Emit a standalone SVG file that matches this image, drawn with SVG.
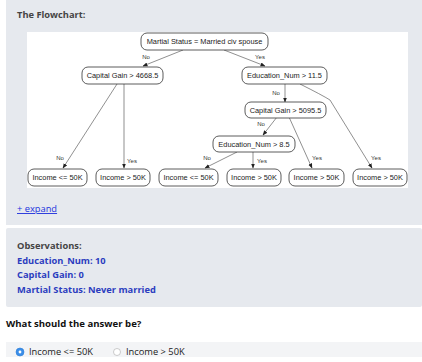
<svg xmlns="http://www.w3.org/2000/svg" width="422" height="362" viewBox="0 0 422 362">
<style>
.panel{fill:#e6e9ee}
.node rect{fill:#fff;stroke:#333;stroke-width:0.8}
.node text{font-family:"Liberation Sans",Arial,sans-serif;font-size:7.4px;fill:#222;text-anchor:middle}
.edge{fill:none;stroke:#444;stroke-width:0.6;marker-end:url(#ah)}
.lbl{font-family:"Liberation Sans",Arial,sans-serif;font-size:6px;fill:#333;text-anchor:middle}
.ui{font-family:"Open Sans","Noto Sans",sans-serif}
.h{font-weight:bold;fill:#444;font-size:9.3px}
.obs{font-weight:bold;fill:#2c3dbf;font-size:9.3px}
</style>
<defs>
<marker id="ah" viewBox="0 0 10 10" refX="9" refY="5" markerWidth="5" markerHeight="5" orient="auto" markerUnits="userSpaceOnUse">
<path d="M0,1 L10,5 L0,9 z" fill="#222"/>
</marker>
</defs>
<rect x="0" y="0" width="422" height="362" fill="#fff"/>
<rect class="panel" x="6" y="0" width="416" height="225"/>
<rect class="panel" x="6" y="228" width="416" height="79" rx="2"/>
<text class="ui h" x="17" y="18">The Flowchart:</text>
<rect x="27" y="32" width="381" height="156" fill="#fff"/>

<g id="connectors">
<path class="edge" d="M183,50 L143,66"/>
<path class="edge" d="M224,50 L265,66"/>
<path class="edge" d="M117,84 L63,168"/>
<path class="edge" d="M124,84 L124,168"/>
<path class="edge" d="M285,84 L285,102"/>
<path class="edge" d="M300,84 Q322,95 330,100 L372,168"/>
<path class="edge" d="M277,117 L263,135"/>
<path class="edge" d="M289,117 L312,168"/>
<path class="edge" d="M237,152 L205,168"/>
<path class="edge" d="M253,152 L253,168"/>
<text class="lbl" x="146" y="59">No</text>
<text class="lbl" x="260" y="59">Yes</text>
<text class="lbl" x="60" y="160">No</text>
<text class="lbl" x="132" y="163">Yes</text>
<text class="lbl" x="276" y="95">No</text>
<text class="lbl" x="376" y="160">Yes</text>
<text class="lbl" x="261" y="126">No</text>
<text class="lbl" x="317" y="160">Yes</text>
<text class="lbl" x="207" y="160">No</text>
<text class="lbl" x="262" y="163">Yes</text>
</g>

<g id="n_root" class="node"><rect x="141" y="33" width="127" height="17" rx="6"/><text x="204.5" y="44.2">Martial Status = Married civ spouse</text></g>
<g id="n_cg1" class="node"><rect x="82" y="67" width="81" height="17" rx="6"/><text x="122.5" y="78.2">Capital Gain &gt; 4668.5</text></g>
<g id="n_en1" class="node"><rect x="242" y="67" width="85" height="17" rx="6"/><text x="284.5" y="78.2">Education_Num &gt; 11.5</text></g>
<g id="n_cg2" class="node"><rect x="245" y="102" width="81" height="16" rx="6"/><text x="285.5" y="112.7">Capital Gain &gt; 5095.5</text></g>
<g id="n_en2" class="node"><rect x="213" y="136" width="82" height="16" rx="6"/><text x="254" y="146.7">Education_Num &gt; 8.5</text></g>
<g id="n_l1" class="node"><rect x="28" y="169" width="59" height="17" rx="6"/><text x="57.5" y="180.2">Income &lt;= 50K</text></g>
<g id="n_l2" class="node"><rect x="96" y="169" width="54" height="17" rx="6"/><text x="123" y="180.2">Income &gt; 50K</text></g>
<g id="n_l3" class="node"><rect x="159" y="169" width="59" height="17" rx="6"/><text x="188.5" y="180.2">Income &lt;= 50K</text></g>
<g id="n_l4" class="node"><rect x="227" y="169" width="54" height="17" rx="6"/><text x="254" y="180.2">Income &gt; 50K</text></g>
<g id="n_l5" class="node"><rect x="289" y="169" width="55" height="17" rx="6"/><text x="316.5" y="180.2">Income &gt; 50K</text></g>
<g id="n_l6" class="node"><rect x="353" y="169" width="54" height="17" rx="6"/><text x="380" y="180.2">Income &gt; 50K</text></g>

<text class="ui" x="17" y="212" font-size="9.3" fill="#2233dd" text-decoration="underline">+ expand</text>

<text class="ui h" x="17" y="249">Observations:</text>
<text class="ui obs" x="17" y="264">Education_Num: 10</text>
<text class="ui obs" x="17" y="278">Capital Gain: 0</text>
<text class="ui obs" x="17" y="293">Martial Status: Never married</text>

<text class="ui" x="6" y="327" font-size="9.6" font-weight="bold" fill="#111">What should the answer be?</text>

<rect x="6" y="342" width="416" height="15" fill="#f3f4f6"/>
<circle cx="20" cy="352" r="4" fill="#3b8ee8" stroke="#2f7fd8" stroke-width="0.6"/>
<circle cx="20" cy="352" r="1.4" fill="#fff"/>
<text class="ui" x="29" y="355" font-size="9.3" fill="#222">Income &lt;= 50K</text>
<circle cx="117" cy="352" r="3.5" fill="#fff" stroke="#aaa" stroke-width="0.6"/>
<text class="ui" x="126" y="355" font-size="9.3" fill="#222">Income &gt; 50K</text>
</svg>
